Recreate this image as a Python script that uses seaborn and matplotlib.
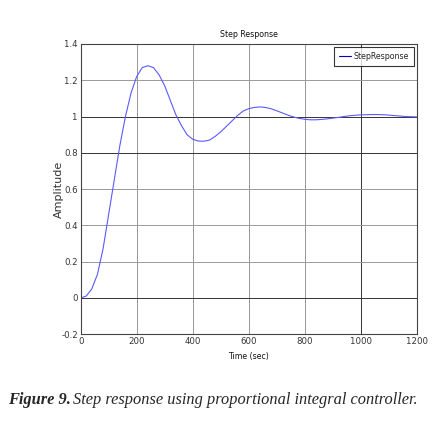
import matplotlib
matplotlib.use("Agg")
import matplotlib.pyplot as plt
import seaborn as sns
import pandas as pd

# time (sec) and step response amplitude
time_s = [0, 20, 40, 60, 80, 100, 120, 140, 160, 180, 200, 220, 240, 260, 280, 300,
          320, 340, 360, 380, 400, 420, 440, 460, 480, 500, 520, 540, 560, 580, 600,
          620, 640, 660, 680, 700, 720, 740, 760, 780, 800, 820, 840, 860, 880, 900,
          920, 940, 960, 980, 1000, 1020, 1040, 1060, 1080, 1100, 1120, 1140, 1160,
          1180, 1200]
amplitude = [0.0, 0.01, 0.05, 0.13, 0.27, 0.46, 0.65, 0.84, 1.0, 1.13, 1.22, 1.27, 1.28,
             1.27, 1.23, 1.17, 1.09, 1.01, 0.95, 0.90, 0.875, 0.865, 0.864, 0.87, 0.89,
             0.915, 0.945, 0.975, 1.005, 1.03, 1.043, 1.05, 1.053, 1.05, 1.043, 1.032,
             1.02, 1.008, 0.998, 0.99, 0.985, 0.982, 0.982, 0.984, 0.987, 0.991, 0.995,
             1.0, 1.004, 1.007, 1.009, 1.01, 1.011, 1.011, 1.01, 1.008, 1.005, 1.003,
             1.0, 0.999, 0.998]
x_ticks = [0, 200, 400, 600, 800, 1000, 1200]
y_ticks = [-0.2, 0, 0.2, 0.4, 0.6, 0.8, 1, 1.2, 1.4]
y_labels = ["-0.2", "0", "0.2", "0.4", "0.6", "0.8", "1", "1.2", "1.4"]

df = pd.DataFrame({"Time": time_s, "Amplitude": amplitude})

sns.set_style("white")
plt.rcParams["font.family"] = ["Liberation Sans Narrow", "DejaVu Sans"]
plt.rcParams["font.stretch"] = "condensed"

fig = plt.figure(figsize=(4.48, 4.23), dpi=100)
ax = fig.add_axes([0.180, 0.210, 0.750, 0.686])

sns.lineplot(data=df, x="Time", y="Amplitude", ax=ax, color="#5a5aff",
             linewidth=0.8, label="StepResponse")

ax.set_xlim(0, 1200)
ax.set_ylim(-0.2, 1.4)
ax.set_xticks(x_ticks)
ax.set_yticks(y_ticks)
ax.set_yticklabels(y_labels)
ax.tick_params(direction="in", length=3, labelsize=6.8, colors="#333333", pad=2)
for s in ax.spines.values():
    s.set_color("#444444")
    s.set_linewidth(0.8)

ax.grid(True, color="#999999", linewidth=0.7)
dark_y = [0, 0.8, 1]
for val, gl in zip(y_ticks, ax.get_ygridlines()):
    if val in dark_y:
        gl.set_color("#333333")
for val, gl in zip(x_ticks, ax.get_xgridlines()):
    if val == 1000:
        gl.set_color("#333333")

ax.set_title("Step Response", fontsize=6.3, pad=5, color="#111111")
ax.set_xlabel("Time (sec)", fontsize=6.3, labelpad=4, color="#111111")
ax.set_ylabel("Amplitude", fontsize=8, family="DejaVu Sans", stretch="normal",
              labelpad=-2, color="#333333")

leg = ax.legend(loc="upper right", fontsize=6.3, frameon=True, fancybox=False,
                handlelength=1.3, handletextpad=0.3, borderpad=0.6, borderaxespad=0.3)
leg.get_frame().set_edgecolor("black")
leg.get_frame().set_linewidth(0.8)
leg.get_lines()[0].set_color("#0000cc")

fig.text(0.018, 0.045, "Figure 9.", fontsize=11.8, family="Liberation Serif",
         stretch="normal", style="italic", weight="bold")
fig.text(0.162, 0.045, "Step response using proportional integral controller.",
         fontsize=11.8, family="Liberation Serif", stretch="normal", style="italic")

fig.savefig("out.png", dpi=100, facecolor="white")
